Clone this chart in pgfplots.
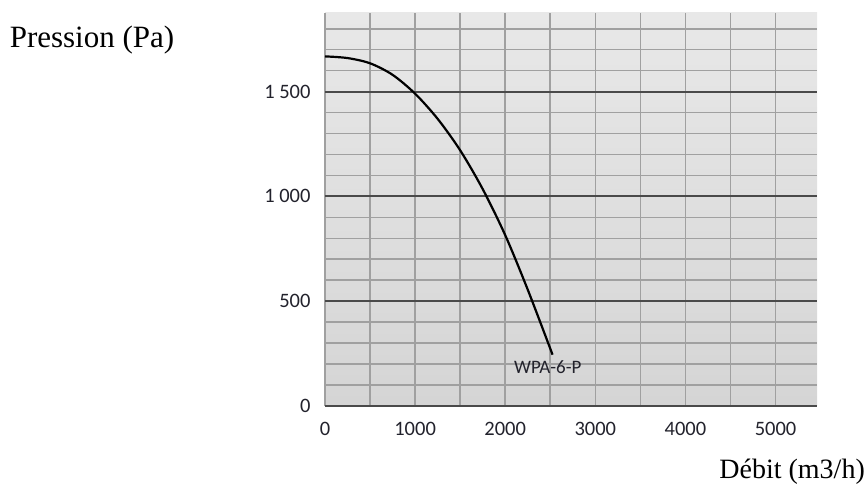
\documentclass[border=0pt]{standalone}
\usepackage{pgfplots}
\pgfplotsset{compat=1.18}
\usepackage{fontspec}
\setmainfont{Liberation Serif}
\newfontfamily\calib{Carlito}
\definecolor{bgtop}{HTML}{E8E8E8}
\definecolor{bgbot}{HTML}{D5D5D5}
\definecolor{gridlight}{HTML}{A0A0A0}
\definecolor{griddark}{HTML}{4A4A4A}
\definecolor{ticktext}{HTML}{22222C}

\begin{document}
\begin{tikzpicture}[x=1pt,y=1pt]
\useasboundingbox (0,0) rectangle (867,500);

\begin{axis}[%
at={(325pt,94pt)},
anchor=south west,
width=492pt,
height=393pt,
scale only axis,
xmin=0, xmax=5460,
ymin=0, ymax=1875,
xtick={0,1000,2000,3000,4000,5000},
minor xtick={0,500,1000,1500,2000,2500,3000,3500,4000,4500,5000},
ytick={0,500,1000,1500},
yticklabels={0,500,1 000,1 500},
minor ytick={100,200,300,400,600,700,800,900,1100,1200,1300,1400,1600,1700,1800},
xmajorgrids=false, xminorgrids=true,
ymajorgrids=true, yminorgrids=true,
minor grid style={draw=gridlight, line width=1.6pt},
major grid style={draw=griddark, line width=2pt},
major tick length=0pt, minor tick length=0pt,
axis line style={draw=none},
axis background/.style={top color=bgtop, bottom color=bgbot},
ticklabel style={font=\calib\fontsize{20.5}{22}\selectfont, text=ticktext},
/pgf/number format/assume math mode=true,
/pgf/number format/set thousands separator={},
xticklabel style={yshift=-13pt},
yticklabel style={xshift=-11pt},
clip=false,
]
% courbe pression / debit
\addplot [black, line width=2.2pt, smooth] coordinates {
(0,1668) (250,1660) (500,1635) (750,1580) (1000,1490) (1250,1370)
(1500,1220) (1750,1035) (2000,815) (2250,555) (2525,245)
};
\node[font=\calib\fontsize{19}{21}\selectfont, text=ticktext] at (axis cs:2472,186) {WPA-6-P};
\end{axis}

\node[font=\fontsize{31}{34}\selectfont] at (92,460) {Pression (Pa)};
\node[font=\fontsize{28}{32}\selectfont, anchor=east, inner sep=0pt] at (865,28) {Débit (m3/h)};
\end{tikzpicture}
\end{document}
